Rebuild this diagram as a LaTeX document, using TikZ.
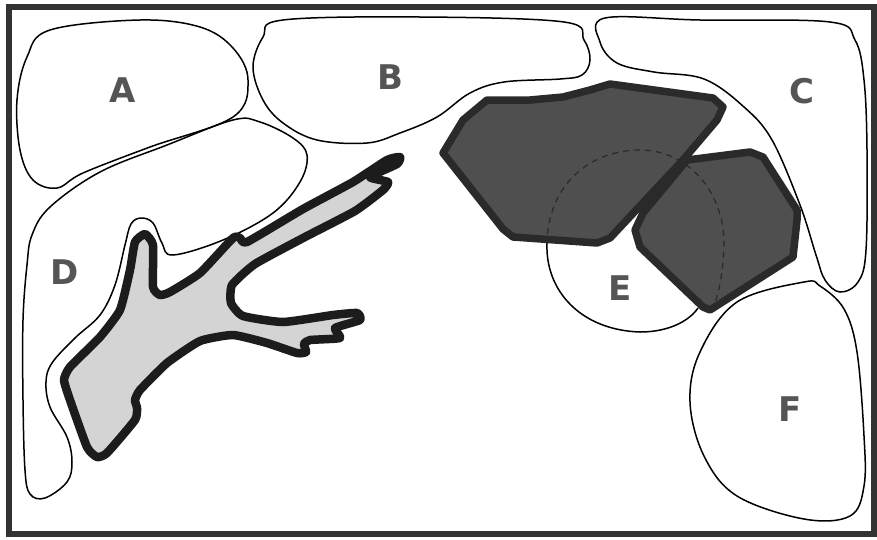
\documentclass[tikz,border=0pt]{standalone}
\usepackage{fontspec}
\newfontfamily\lblfont{DejaVu Sans}
\definecolor{rockfill}{HTML}{4F4F4F}
\definecolor{rockline}{HTML}{2A2A2A}
\definecolor{treefill}{HTML}{D4D4D4}
\definecolor{treeline}{HTML}{1C1C1C}
\definecolor{lblgray}{HTML}{555555}
\definecolor{framegray}{HTML}{333333}
\begin{document}
\begin{tikzpicture}[x=1pt, y=-1pt,
  zone/.style={draw=black, line width=1.5pt},
  rock/.style={draw=rockline, fill=rockfill, line width=7.5pt, line join=round},
  trunk/.style={draw=treeline, fill=treefill, line width=8.5pt, line join=round},
  lbl/.style={font=\lblfont\bfseries\fontsize{34}{34}\selectfont, text=lblgray, inner sep=0pt}]
  \useasboundingbox (0,0) rectangle (877,539);
  \fill[white] (0,0) rectangle (877,539);
  \draw[zone] plot[smooth cycle, tension=0.6] coordinates {(50,30) (140,20) (200,27) (233,48) (248,80) (233,117) (150,147) (83,173) (57,188) (33,180) (20,150) (17,100) (27,57)};
  \draw[zone] plot[smooth cycle, tension=0.6] coordinates {(283,20) (420,17) (564,22) (584,40) (590,60) (582,75) (560,79) (504,82) (470,93) (437,117) (400,133) (367,143) (317,140) (283,123) (263,100) (253,67) (263,37)};
  \draw[zone] plot[smooth cycle, tension=0.6] coordinates {(605,18) (700,20) (830,22) (855,40) (864,80) (867,150) (866,250) (858,282) (840,292) (825,280) (816,255) (800,205) (772,140) (744,107) (704,79) (654,72) (617,63) (600,42)};
  \draw[zone] plot[smooth cycle, tension=0.6] coordinates {(233,120) (260,122) (293,138) (307,155) (300,182) (273,213) (223,240) (173,255) (162,243) (153,223) (141,218) (131,224) (125,245) (115,285) (100,315) (75,338) (52,363) (46,382) (50,407) (67,437) (72,462) (67,482) (45,498) (30,494) (25,470) (23,400) (23,320) (27,265) (32,235) (50,207) (100,172) (167,145)};
  \draw[zone] plot[smooth cycle, tension=0.6] coordinates {(804,282) (820,286) (844,309) (857,352) (864,436) (864,486) (850,516) (804,519) (737,496) (704,456) (690,402) (700,352) (737,302)};
  \draw[zone] (547,243) .. controls (545,290) and (580,330) .. (640,332) .. controls (670,332) and (690,320) .. (698,308);
  \draw[trunk] plot[smooth cycle, tension=0.3] coordinates {(145,234) (153,245) (153,287) (160,295) (170,292) (200,273) (233,238) (240,238) (247,242) (303,209) (353,182) (387,160) (400,157) (397,164) (370,177) (388,182) (383,190) (355,211) (305,237) (255,264) (232,285) (231,303) (243,316) (283,322) (333,315) (357,313) (360,320) (335,328) (340,338) (310,340) (304,344) (306,352) (297,353) (267,343) (233,335) (200,341) (167,363) (140,390) (135,400) (137,408) (135,420) (107,453) (97,457) (87,447) (70,400) (64,380) (70,367) (100,337) (120,310) (130,270) (135,242)};
  \filldraw[rock] (443,153) -- (463,120) -- (487,100) -- (530,100) -- (563,97) -- (590,90) -- (610,84) -- (713,98) -- (723,107) -- (717,120) -- (683,160) -- (610,238) -- (597,243) -- (513,237) -- (503,229) -- cycle;
  \filldraw[rock] (687,160) -- (750,152) -- (763,157) -- (797,210) -- (797,220) -- (793,257) -- (710,310) -- (703,307) -- (640,247) -- (635,230) -- (643,213) -- cycle;
  \begin{scope}
    \clip (443,153) -- (463,120) -- (487,100) -- (530,100) -- (563,97) -- (590,90) -- (610,84) -- (713,98) -- (723,107) -- (717,120) -- (683,160) -- (610,238) -- (597,243) -- (513,237) -- (503,229) -- cycle
      (687,160) -- (750,152) -- (763,157) -- (797,210) -- (797,220) -- (793,257) -- (710,310) -- (703,307) -- (640,247) -- (635,230) -- (643,213) -- cycle;
    \draw[rockline, line width=1.2pt, dash pattern=on 6pt off 5pt] (547,245) .. controls (547,185) and (590,150) .. (640,150) .. controls (690,150) and (725,195) .. (724,245) .. controls (723,270) and (720,290) .. (714,305);
  \end{scope}
  \draw[framegray, line width=6.5pt] (9,7) rectangle (874,534);
  \node[lbl] (lblA) at (123,90) {A};
  \node[lbl] (lblB) at (390,77) {B};
  \node[lbl] (lblC) at (802,91) {C};
  \node[lbl] (lblD) at (65,272) {D};
  \node[lbl] (lblE) at (620,288) {E};
  \node[lbl] (lblF) at (790,409) {F};
\end{tikzpicture}
\end{document}
